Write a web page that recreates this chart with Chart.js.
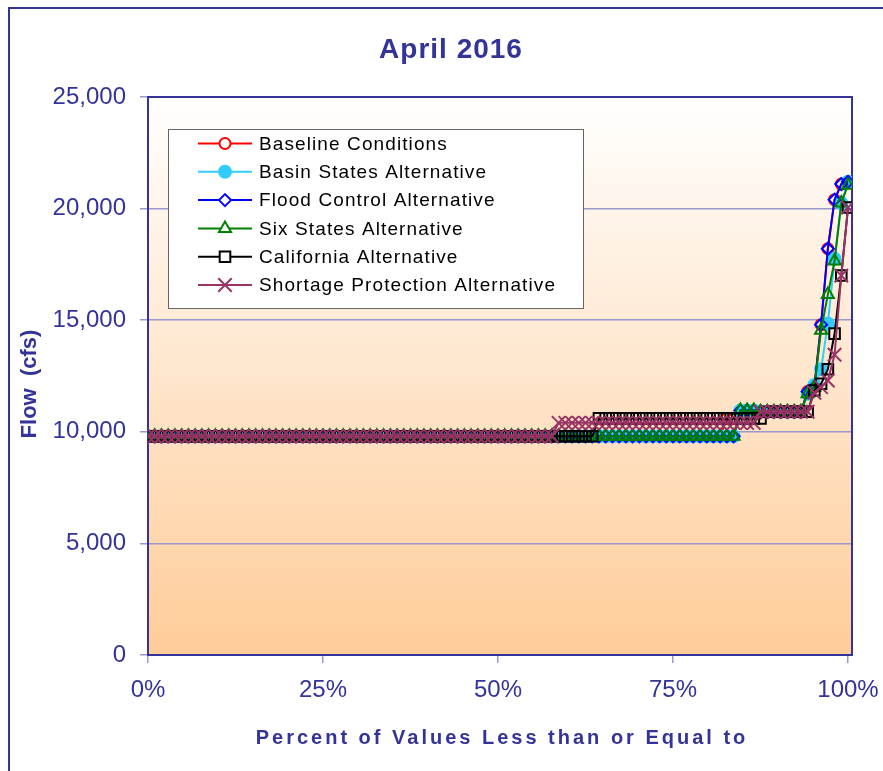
<!DOCTYPE html>
<html>
<head>
<meta charset="utf-8">
<title>April 2016</title>
<script src="https://cdn.jsdelivr.net/npm/chart.js"></script>
<style>
  body { margin: 0; background: #fff; }
  canvas { display: block; }
</style>
</head>
<body>
<canvas id="flowChart" width="883" height="771"></canvas>
<script>
// x : percent of values less than or equal to (105 ranked traces)
const pct = [
  0, 0.96, 1.92, 2.88, 3.85, 4.81, 5.77, 6.73, 7.69, 8.65, 9.62, 10.58, 11.54, 12.5, 13.46,
  14.42, 15.38, 16.35, 17.31, 18.27, 19.23, 20.19, 21.15, 22.12, 23.08, 24.04, 25, 25.96, 26.92, 27.88,
  28.85, 29.81, 30.77, 31.73, 32.69, 33.65, 34.62, 35.58, 36.54, 37.5, 38.46, 39.42, 40.38, 41.35, 42.31,
  43.27, 44.23, 45.19, 46.15, 47.12, 48.08, 49.04, 50, 50.96, 51.92, 52.88, 53.85, 54.81, 55.77, 56.73,
  57.69, 58.65, 59.62, 60.58, 61.54, 62.5, 63.46, 64.42, 65.38, 66.35, 67.31, 68.27, 69.23, 70.19, 71.15,
  72.12, 73.08, 74.04, 75, 75.96, 76.92, 77.88, 78.85, 79.81, 80.77, 81.73, 82.69, 83.65, 84.62, 85.58,
  86.54, 87.5, 88.46, 89.42, 90.38, 91.35, 92.31, 93.27, 94.23, 95.19, 96.15, 97.12, 98.08, 99.04, 100
];

// flow (cfs) for each alternative
const baseline = [
  9800, 9800, 9800, 9800, 9800, 9800, 9800, 9800, 9800, 9800, 9800, 9800, 9800, 9800, 9800,
  9800, 9800, 9800, 9800, 9800, 9800, 9800, 9800, 9800, 9800, 9800, 9800, 9800, 9800, 9800,
  9800, 9800, 9800, 9800, 9800, 9800, 9800, 9800, 9800, 9800, 9800, 9800, 9800, 9800, 9800,
  9800, 9800, 9800, 9800, 9800, 9800, 9800, 9800, 9800, 9800, 9800, 9800, 9800, 9800, 9800,
  9800, 9800, 9800, 9800, 9800, 9800, 9800, 9800, 9800, 9800, 9800, 9800, 9800, 9800, 9800,
  9800, 9800, 9800, 9800, 9800, 9800, 9800, 9800, 9800, 9800, 9800, 10600, 10600, 10950, 10950,
  10950, 10900, 10900, 10900, 10900, 10900, 10900, 10900, 11800, 12000, 14800, 18200, 20400, 21100, 21200
];
const basinStates = [
  9800, 9800, 9800, 9800, 9800, 9800, 9800, 9800, 9800, 9800, 9800, 9800, 9800, 9800, 9800,
  9800, 9800, 9800, 9800, 9800, 9800, 9800, 9800, 9800, 9800, 9800, 9800, 9800, 9800, 9800,
  9800, 9800, 9800, 9800, 9800, 9800, 9800, 9800, 9800, 9800, 9800, 9800, 9800, 9800, 9800,
  9800, 9800, 9800, 9800, 9800, 9800, 9800, 9800, 9800, 9800, 9800, 9800, 9800, 9800, 9800,
  9800, 9800, 9800, 9800, 9800, 9800, 9800, 9800, 9800, 9800, 9800, 9800, 9800, 9800, 9800,
  9800, 9800, 9800, 9800, 9800, 9800, 9800, 9800, 9800, 9800, 9800, 9800, 9800, 10950, 10950,
  10950, 10900, 10900, 10900, 10900, 10900, 10900, 10900, 11700, 12100, 12800, 14850, 17750, 20250, 21200
];
const floodControl = [
  9800, 9800, 9800, 9800, 9800, 9800, 9800, 9800, 9800, 9800, 9800, 9800, 9800, 9800, 9800,
  9800, 9800, 9800, 9800, 9800, 9800, 9800, 9800, 9800, 9800, 9800, 9800, 9800, 9800, 9800,
  9800, 9800, 9800, 9800, 9800, 9800, 9800, 9800, 9800, 9800, 9800, 9800, 9800, 9800, 9800,
  9800, 9800, 9800, 9800, 9800, 9800, 9800, 9800, 9800, 9800, 9800, 9800, 9800, 9800, 9800,
  9800, 9800, 9800, 9800, 9800, 9800, 9800, 9800, 9800, 9800, 9800, 9800, 9800, 9800, 9800,
  9800, 9800, 9800, 9800, 9800, 9800, 9800, 9800, 9800, 9800, 9800, 9800, 9800, 10950, 10950,
  10950, 10900, 10900, 10900, 10900, 10900, 10900, 10900, 11800, 12000, 14800, 18200, 20400, 21100, 21200
];
const sixStates = [
  9800, 9800, 9800, 9800, 9800, 9800, 9800, 9800, 9800, 9800, 9800, 9800, 9800, 9800, 9800,
  9800, 9800, 9800, 9800, 9800, 9800, 9800, 9800, 9800, 9800, 9800, 9800, 9800, 9800, 9800,
  9800, 9800, 9800, 9800, 9800, 9800, 9800, 9800, 9800, 9800, 9800, 9800, 9800, 9800, 9800,
  9800, 9800, 9800, 9800, 9800, 9800, 9800, 9800, 9800, 9800, 9800, 9800, 9800, 9800, 9800,
  9800, 9800, 9800, 9800, 9800, 9800, 9800, 9800, 9800, 9800, 9800, 9800, 9800, 9800, 9800,
  9800, 9800, 9800, 9800, 9800, 9800, 9800, 9800, 9800, 9800, 9800, 9800, 9800, 10950, 10950,
  10950, 10900, 10900, 10900, 10900, 10900, 10900, 10900, 11700, 12000, 14550, 16150, 17650, 20250, 21050
];
const california = [
  9800, 9800, 9800, 9800, 9800, 9800, 9800, 9800, 9800, 9800, 9800, 9800, 9800, 9800, 9800,
  9800, 9800, 9800, 9800, 9800, 9800, 9800, 9800, 9800, 9800, 9800, 9800, 9800, 9800, 9800,
  9800, 9800, 9800, 9800, 9800, 9800, 9800, 9800, 9800, 9800, 9800, 9800, 9800, 9800, 9800,
  9800, 9800, 9800, 9800, 9800, 9800, 9800, 9800, 9800, 9800, 9800, 9800, 9800, 9800, 9800,
  9800, 9800, 9800, 9800, 9800, 9800, 9800, 10600, 10600, 10600, 10600, 10600, 10600, 10600, 10600,
  10600, 10600, 10600, 10600, 10600, 10600, 10600, 10600, 10600, 10600, 10600, 10600, 10600, 10600, 10600,
  10600, 10600, 10900, 10900, 10900, 10900, 10900, 10900, 10900, 11850, 12150, 12800, 14400, 17000, 20050
];
const shortageProtection = [
  9800, 9800, 9800, 9800, 9800, 9800, 9800, 9800, 9800, 9800, 9800, 9800, 9800, 9800, 9800,
  9800, 9800, 9800, 9800, 9800, 9800, 9800, 9800, 9800, 9800, 9800, 9800, 9800, 9800, 9800,
  9800, 9800, 9800, 9800, 9800, 9800, 9800, 9800, 9800, 9800, 9800, 9800, 9800, 9800, 9800,
  9800, 9800, 9800, 9800, 9800, 9800, 9800, 9800, 9800, 9800, 9800, 9800, 9800, 9800, 9800,
  9800, 10400, 10400, 10400, 10400, 10400, 10400, 10400, 10400, 10400, 10400, 10400, 10400, 10400, 10400,
  10400, 10400, 10400, 10400, 10400, 10400, 10400, 10400, 10400, 10400, 10400, 10400, 10400, 10400, 10400,
  10400, 10900, 10900, 10900, 10900, 10900, 10900, 10900, 10900, 11750, 12000, 12300, 13450, 17000, 20050
];

const seriesNames = [
  'Baseline Conditions',
  'Basin States Alternative',
  'Flood Control Alternative',
  'Six States Alternative',
  'California Alternative',
  'Shortage Protection Alternative'
];
const xTicks = [0, 25, 50, 75, 100];
const yTicks = [0, 5000, 10000, 15000, 20000, 25000];

const NAVY = '#333399';
const GRID = '#9999CC';
const FONT = "'Liberation Sans', Arial, sans-serif";

// line / marker look for each series
const looks = [
  { values: baseline,           color: '#FF0000', style: 'circle',   r: 5.5, filled: false },
  { values: basinStates,        color: '#33CCFF', style: 'circle',   r: 6,   filled: true  },
  { values: floodControl,       color: '#0000FF', style: 'rectRot',  r: 6,   filled: false },
  { values: sixStates,          color: '#008000', style: 'triangle', r: 7,   filled: false },
  { values: california,         color: '#000000', style: 'rect',     r: 7.5, filled: false },
  { values: shortageProtection, color: '#993366', style: 'crossRot', r: 9.5, filled: false }
];

// gradient plot area + outer frame
const backdrop = {
  id: 'backdrop',
  beforeDraw(chart) {
    const { ctx, chartArea: a } = chart;
    ctx.save();
    ctx.fillStyle = '#fff';
    ctx.fillRect(0, 0, chart.width, chart.height);
    ctx.strokeStyle = NAVY;
    ctx.lineWidth = 2;
    ctx.strokeRect(9, 8, chart.width + 20, chart.height + 20);
    const g = ctx.createLinearGradient(0, a.top, 0, a.bottom);
    g.addColorStop(0, '#FFFFFF');
    g.addColorStop(1, '#FFCC99');
    ctx.fillStyle = g;
    ctx.fillRect(a.left, a.top, a.right - a.left, a.bottom - a.top);
    ctx.restore();
  },
  beforeDatasetsDraw(chart) {
    const { ctx, chartArea: a } = chart;
    ctx.save();
    ctx.strokeStyle = NAVY;
    ctx.lineWidth = 2;
    ctx.strokeRect(a.left, a.top, a.right - a.left, a.bottom - a.top);
    ctx.restore();
  }
};

// titles and the boxed legend
const texts = {
  id: 'texts',
  afterDraw(chart) {
    const ctx = chart.ctx;
    ctx.save();
    ctx.fillStyle = NAVY;
    ctx.textAlign = 'center';
    ctx.textBaseline = 'middle';

    ctx.font = 'bold 28px ' + FONT;
    ctx.letterSpacing = '1px';
    ctx.fillText('April 2016', 451, 50);

    ctx.font = 'bold 20px ' + FONT;
    ctx.letterSpacing = '3px';
    ctx.fillText('Percent of Values Less than or Equal to', 502, 738);

    ctx.save();
    ctx.translate(30, 384);
    ctx.rotate(-Math.PI / 2);
    ctx.font = 'bold 22px ' + FONT;
    ctx.letterSpacing = '0px';
    ctx.fillText('Flow  (cfs)', 0, 0);
    ctx.restore();

    // legend
    ctx.fillStyle = '#fff';
    ctx.fillRect(168, 129, 415, 179);
    ctx.strokeStyle = '#666';
    ctx.lineWidth = 1;
    ctx.strokeRect(168.5, 129.5, 415, 179);

    ctx.font = '19px ' + FONT;
    ctx.letterSpacing = '1.1px';
    ctx.textAlign = 'left';
    looks.forEach((s, i) => {
      const y = 143.5 + i * 28.3;
      ctx.strokeStyle = s.color;
      ctx.lineWidth = 2;
      ctx.beginPath();
      ctx.moveTo(198, y);
      ctx.lineTo(252, y);
      ctx.stroke();
      ctx.fillStyle = s.filled ? s.color : '#fff';
      ctx.lineWidth = 2;
      Chart.helpers.drawPoint(ctx, { pointStyle: s.style, radius: s.r, borderWidth: 2, rotation: 0 }, 225, y);
      ctx.fillStyle = '#000';
      ctx.fillText(seriesNames[i], 259, y + 1);
    });
    ctx.restore();
  }
};

new Chart(document.getElementById('flowChart'), {
  type: 'line',
  data: {
    datasets: looks.map((s, i) => ({
      label: seriesNames[i],
      data: pct.map((p, j) => ({ x: p, y: s.values[j] })),
      borderColor: s.color,
      borderWidth: 2,
      pointStyle: s.style,
      pointRadius: s.r,
      pointBorderColor: s.color,
      pointBackgroundColor: s.filled ? s.color : 'rgba(0,0,0,0)',
      pointBorderWidth: 2,
      tension: 0,
      order: looks.length - i
    }))
  },
  options: {
    responsive: false,
    animation: false,
    events: [],
    layout: { padding: { left: 0, top: 97, right: 31, bottom: 0 } },
    plugins: { legend: { display: false }, title: { display: false }, tooltip: { enabled: false } },
    scales: {
      x: {
        type: 'linear',
        min: 0,
        max: 100.57,
        afterBuildTicks: (scale) => { scale.ticks = xTicks.map(v => ({ value: v })); },
        afterFit: (scale) => { scale.height = 116; scale.paddingLeft = 0; scale.paddingRight = 0; },
        grid: { drawOnChartArea: false, drawTicks: true, tickLength: 8, color: GRID, lineWidth: 1.5 },
        border: { display: false },
        ticks: { color: NAVY, font: { family: FONT, size: 24 }, padding: 13, maxRotation: 0, callback: (v) => v + '%' }
      },
      y: {
        min: 0,
        max: 25000,
        afterBuildTicks: (scale) => { scale.ticks = yTicks.map(v => ({ value: v })); },
        afterFit: (scale) => { scale.width = 148; scale.paddingTop = 0; scale.paddingBottom = 0; },
        grid: { color: GRID, lineWidth: 1.5, tickLength: 8 },
        border: { display: false },
        ticks: { color: NAVY, font: { family: FONT, size: 24 }, padding: 14, callback: (v) => v.toLocaleString('en-US') }
      }
    }
  },
  plugins: [backdrop, texts]
});
</script>
</body>
</html>
